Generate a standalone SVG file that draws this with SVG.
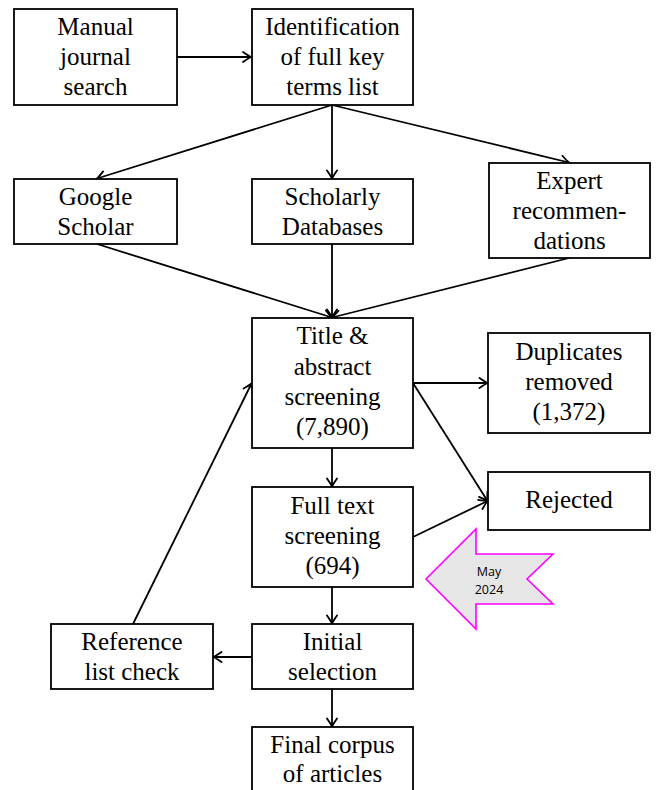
<svg xmlns="http://www.w3.org/2000/svg" width="657" height="790" viewBox="0 0 657 790">
<style>
.box{fill:#fff;stroke:#000;stroke-width:1.8}
.t{font-family:"Liberation Serif","Times New Roman",serif;font-size:25px;fill:#000;text-anchor:middle}
.c{fill:none;stroke:#000;stroke-width:1.8;marker-end:url(#ah)}
.m{font-family:"Open Sans","Liberation Sans",sans-serif;font-size:12.5px;fill:#000;text-anchor:middle}
</style>
<defs>
<marker id="ah" viewBox="-10 -6 12 12" markerWidth="12" markerHeight="12" refX="0" refY="0" orient="auto" markerUnits="userSpaceOnUse">
<path d="M-8,-5 Q-2.5,-1.2 0,0 Q-2.5,1.2 -8,5" fill="none" stroke="#000" stroke-width="1.8" stroke-linecap="round"/>
</marker>
</defs>
<rect width="657" height="790" fill="#fff"/>
<g id="connectors">
<line class="c" x1="177" y1="57" x2="251" y2="57"/>
<line class="c" x1="332" y1="105" x2="97" y2="178.5"/>
<line class="c" x1="332" y1="105" x2="332" y2="178.5"/>
<line class="c" x1="332" y1="105" x2="569" y2="162.5"/>
<line class="c" x1="97" y1="244" x2="332" y2="317.5"/>
<line class="c" x1="332" y1="244" x2="332" y2="317.5"/>
<line class="c" x1="569" y1="258" x2="332" y2="317.5"/>
<line class="c" x1="413" y1="383" x2="487.5" y2="383"/>
<line class="c" x1="413" y1="383" x2="487.5" y2="501"/>
<line class="c" x1="332" y1="448" x2="332" y2="486.5"/>
<line class="c" x1="413" y1="537" x2="487.5" y2="501"/>
<line class="c" x1="332" y1="587" x2="332" y2="623.5"/>
<line class="c" x1="252" y1="657" x2="213.5" y2="657"/>
<line class="c" x1="332" y1="689" x2="332" y2="726.5"/>
<line class="c" x1="133" y1="624" x2="251.5" y2="383.5"/>
</g>
<g id="manual">
<rect class="box" x="14" y="9" width="163" height="96"/>
<text class="t" x="95.5" y="35">Manual</text>
<text class="t" x="95.5" y="65">journal</text>
<text class="t" x="95.5" y="95">search</text>
</g>
<g id="identification">
<rect class="box" x="252" y="9" width="161" height="96"/>
<text class="t" x="332.5" y="35">Identification</text>
<text class="t" x="332.5" y="65">of full key</text>
<text class="t" x="332.5" y="95">terms list</text>
</g>
<g id="google">
<rect class="box" x="14" y="179" width="163" height="65"/>
<text class="t" x="95.5" y="205">Google</text>
<text class="t" x="95.5" y="235">Scholar</text>
</g>
<g id="scholarly">
<rect class="box" x="252" y="179" width="161" height="65"/>
<text class="t" x="332.5" y="205">Scholarly</text>
<text class="t" x="332.5" y="235">Databases</text>
</g>
<g id="expert">
<rect class="box" x="489" y="163" width="161" height="95"/>
<text class="t" x="569.5" y="189">Expert</text>
<text class="t" x="569.5" y="219">recommen-</text>
<text class="t" x="569.5" y="249">dations</text>
</g>
<g id="title">
<rect class="box" x="252" y="318" width="161" height="130"/>
<text class="t" x="332.5" y="344">Title &amp;</text>
<text class="t" x="332.5" y="375">abstract</text>
<text class="t" x="332.5" y="405">screening</text>
<text class="t" x="332.5" y="435">(7,890)</text>
</g>
<g id="duplicates">
<rect class="box" x="488" y="333" width="162" height="100"/>
<text class="t" x="569" y="360">Duplicates</text>
<text class="t" x="569" y="390">removed</text>
<text class="t" x="569" y="420">(1,372)</text>
</g>
<g id="rejected">
<rect class="box" x="488" y="472" width="162" height="58"/>
<text class="t" x="569" y="508">Rejected</text>
</g>
<g id="fulltext">
<rect class="box" x="252" y="487" width="161" height="100"/>
<text class="t" x="332.5" y="514">Full text</text>
<text class="t" x="332.5" y="544">screening</text>
<text class="t" x="332.5" y="574">(694)</text>
</g>
<g id="may2024">
<polygon points="426,579 476,529 476,554 553,554 527,579 553,604 476,604 476,629" fill="#e7e6e6" stroke="#ff00ff" stroke-width="1.6"/>
<text class="m" x="489" y="576">May</text>
<text class="m" x="489" y="594">2024</text>
</g>
<g id="reference">
<rect class="box" x="51" y="624" width="162" height="65"/>
<text class="t" x="132" y="650">Reference</text>
<text class="t" x="132" y="680">list check</text>
</g>
<g id="initial">
<rect class="box" x="252" y="624" width="161" height="65"/>
<text class="t" x="332.5" y="650">Initial</text>
<text class="t" x="332.5" y="680">selection</text>
</g>
<g id="final">
<rect class="box" x="252" y="727" width="161" height="80"/>
<text class="t" x="332.5" y="753">Final corpus</text>
<text class="t" x="332.5" y="782">of articles</text>
</g>
</svg>
